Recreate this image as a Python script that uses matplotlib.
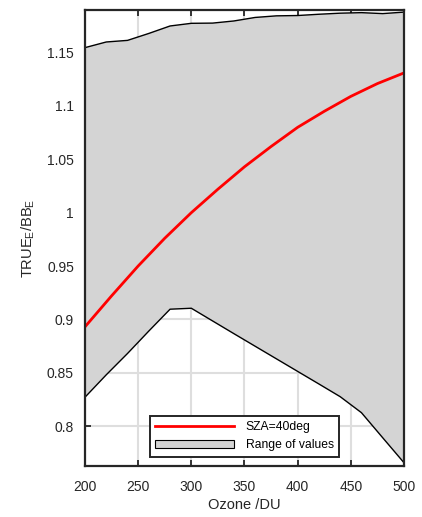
import numpy as np
import matplotlib
matplotlib.use('Agg')
from matplotlib import pyplot as plt
from matplotlib.patches import Patch
from matplotlib.lines import Line2D

plt.rcParams['font.family'] = ['Liberation Sans', 'DejaVu Sans']
plt.rcParams['mathtext.fontset'] = 'custom'
plt.rcParams['mathtext.rm'] = 'Liberation Sans'

# range envelope, every 20 DU
ozone_env = [200, 220, 240, 260, 280, 300, 320, 340, 360, 380, 400, 420, 440, 460, 480, 500]
upper = [1.1547, 1.160, 1.1615, 1.168, 1.175, 1.1775, 1.1777, 1.1797, 1.183, 1.1845,
         1.1848, 1.186, 1.187, 1.1875, 1.1866, 1.188]
lower = [0.827, 0.848, 0.868, 0.889, 0.9095, 0.9104, 0.8985, 0.8866, 0.8748, 0.863,
         0.8512, 0.8394, 0.8275, 0.8125, 0.789, 0.7656]

# SZA=40deg curve
ozone_sza = [200, 225, 250, 275, 300, 325, 350, 375, 400, 425, 450, 475, 500]
ratio_sza = [0.893, 0.922, 0.950, 0.976, 1.000, 1.022, 1.043, 1.062, 1.080, 1.095, 1.109, 1.121, 1.131]

xticks = [200, 250, 300, 350, 400, 450, 500]
yticks = [0.8, 0.85, 0.9, 0.95, 1.0, 1.05, 1.1, 1.15]
ytick_labels = ['0.8', '0.85', '0.9', '0.95', '1', '1.05', '1.1', '1.15']

fig = plt.figure(figsize=(4.22, 5.17), dpi=100)
ax = fig.add_axes([0.2014, 0.0986, 0.7559, 0.8821])

ax.grid(True, color='#dedede', linewidth=1.5, zorder=0)
ax.set_axisbelow(True)

ax.fill_between(ozone_env, lower, upper, facecolor='#d4d4d4', edgecolor='none', zorder=1)
ax.plot(ozone_env, upper, color='k', lw=1.0, zorder=2)
ax.plot(ozone_env, lower, color='k', lw=1.0, zorder=2)
ax.plot(ozone_sza, ratio_sza, color='#ff0000', lw=2.0, zorder=3)

ax.set_xlim(200, 500)
ax.set_ylim(0.7625, 1.19)
ax.set_xticks(xticks)
ax.set_yticks(yticks)
ax.set_yticklabels(ytick_labels)
ax.tick_params(direction='in', length=4.5, width=1.3, top=True, right=True,
               labelsize=10, colors='#262626')
ax.tick_params(axis='x', pad=10)
ax.tick_params(axis='y', pad=8)
for s in ax.spines.values():
    s.set_linewidth(1.6)
    s.set_color('#262626')
    s.set_zorder(5)

ax.set_xlabel('Ozone /DU', fontsize=10.5, color='#262626', labelpad=3)
ax.set_ylabel(r'TRUE$_\mathrm{E}$/BB$_\mathrm{E}$', fontsize=10.5, color='#262626', labelpad=7)

handles = [Line2D([], [], color='#ff0000', lw=2.0),
           Patch(facecolor='#d4d4d4', edgecolor='k', linewidth=0.8)]
leg = ax.legend(handles, ['SZA=40deg', 'Range of values'], loc='lower center',
                bbox_to_anchor=(0.5, 0.02), fontsize=8.7, fancybox=False,
                framealpha=1, edgecolor='#262626', handlelength=6.5, borderpad=0.45,
                labelspacing=0.5, handletextpad=1.0, borderaxespad=0)
leg.get_frame().set_linewidth(1.4)
leg.set_zorder(6)

fig.savefig('out.png', dpi=100)
